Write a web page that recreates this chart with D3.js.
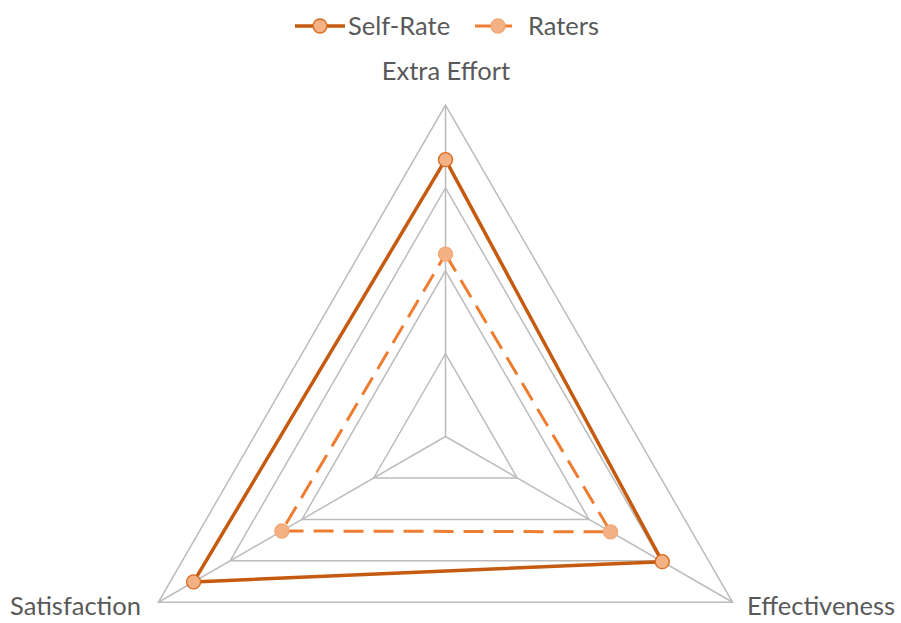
<!DOCTYPE html>
<html>
<head>
<meta charset="utf-8">
<script src="https://cdn.jsdelivr.net/npm/d3@7"></script>
<style>
  html, body { margin: 0; padding: 0; background: #fff; }
  svg text { font-family: Lato, "Open Sans", sans-serif; fill: #595959; }
</style>
</head>
<body>
<svg id="chart" width="901" height="623"></svg>
<script>
// Radar axes and series
const axes = ["Extra Effort", "Effectiveness", "Satisfaction"];
const selfRate = [3.34, 3.02, 3.51];
const raters = [2.20, 2.30, 2.28];
const gridLevels = [1, 2, 3, 4];
const seriesNames = ["Self-Rate", "Raters"];

const svg = d3.select("#chart");
const cx = 445.5, cy = 436.5, R = 331.5;
const rScale = d3.scaleLinear().domain([0, 4]).range([0, R]);
const angle = d3.scalePoint().domain(axes).range([0, 2 * Math.PI * 2 / 3]);

function pt(axis, v) {
  const a = angle(axis) - Math.PI / 2;
  return [cx + rScale(v) * Math.cos(a), cy + rScale(v) * Math.sin(a)];
}

const grid = svg.append("g");
gridLevels.forEach(l => {
  grid.append("polygon")
    .attr("points", axes.map(a => pt(a, l).join(",")).join(" "))
    .attr("fill", "none").attr("stroke", "#BCBCBC").attr("stroke-width", 1.5);
});
axes.forEach(a => {
  const [x, y] = pt(a, 4);
  grid.append("line").attr("x1", cx).attr("y1", cy).attr("x2", x).attr("y2", y)
    .attr("stroke", "#BCBCBC").attr("stroke-width", 1.5);
});

const line = d3.line().curve(d3.curveLinearClosed);

const styles = [
  { data: selfRate, stroke: "#C55A11", width: 3.5, dash: null, mFill: "#F4B183", mStroke: "#D9691F" },
  { data: raters, stroke: "#ED7D31", width: 3, dash: "20,10", mFill: "#F4B183", mStroke: "#F2A674" }
];

styles.forEach(s => {
  const pts = axes.map((a, i) => pt(a, s.data[i]));
  svg.append("path").attr("d", line(pts)).attr("fill", "none")
    .attr("stroke", s.stroke).attr("stroke-width", s.width)
    .attr("stroke-dasharray", s.dash).attr("stroke-linejoin", "round");
});
styles.forEach(s => {
  const pts = axes.map((a, i) => pt(a, s.data[i]));
  svg.selectAll(null).data(pts).enter().append("circle")
    .attr("cx", d => d[0]).attr("cy", d => d[1]).attr("r", 7)
    .attr("fill", s.mFill).attr("stroke", s.mStroke).attr("stroke-width", 1.3);
});

// Axis labels
svg.append("text").attr("x", 446).attr("y", 80).attr("text-anchor", "middle")
  .attr("font-size", 25.5).text(axes[0]);
svg.append("text").attr("x", 747).attr("y", 615).attr("text-anchor", "start")
  .attr("font-size", 25.5).text(axes[1]);
svg.append("text").attr("x", 10).attr("y", 615).attr("text-anchor", "start")
  .attr("font-size", 25.5).text(axes[2]);

// Legend
const legend = [
  { x1: 295, x2: 345, mx: 320, tx: 348 },
  { x1: 475, x2: 512, mx: 498, tx: 528 }
];
seriesNames.forEach((n, i) => {
  const s = styles[i], L = legend[i];
  const g = svg.append("g");
  g.append("line").attr("x1", L.x1).attr("x2", L.x2)
    .attr("y1", 26).attr("y2", 26).attr("stroke", s.stroke).attr("stroke-width", s.width);
  g.append("circle").attr("cx", L.mx).attr("cy", 26).attr("r", 7)
    .attr("fill", s.mFill).attr("stroke", s.mStroke).attr("stroke-width", 1.3);
  g.append("text").attr("x", L.tx).attr("y", 35).attr("font-size", 25.5).text(n);
});
</script>
</body>
</html>
